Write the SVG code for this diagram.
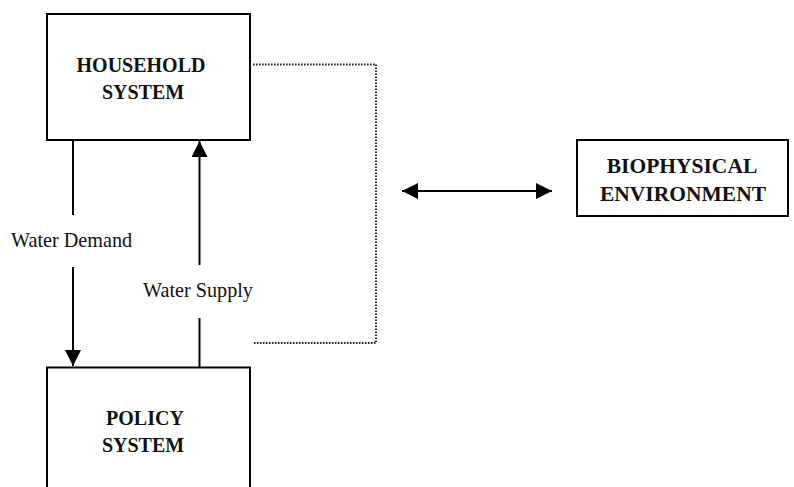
<svg xmlns="http://www.w3.org/2000/svg" width="794" height="487" viewBox="0 0 794 487">
<style>
.box{fill:#fff;stroke:#000;stroke-width:2}
.t{font-family:"Liberation Serif","Times New Roman",serif;font-weight:bold;font-size:20px;text-anchor:middle;fill:#111}
.lbl{font-family:"Liberation Serif","Times New Roman",serif;font-size:20.2px;fill:#111}
.ln{stroke:#000;stroke-width:2;fill:none}
.dot{stroke:#222;stroke-width:2;fill:none;stroke-dasharray:1.6 1.4}
</style>
<defs>
<marker id="ah" viewBox="0 0 16 16" refX="16" refY="8" markerWidth="16" markerHeight="16" markerUnits="userSpaceOnUse" orient="auto-start-reverse">
<path d="M0,0 L16,8 L0,16 Z" fill="#000"/>
</marker>
</defs>
<rect width="794" height="487" fill="#fff"/>
<g id="connectors">
<path class="ln" d="M73,140 V215"/>
<path class="ln" d="M73,267 V366" marker-end="url(#ah)"/>
<path class="ln" d="M199.5,368 V318"/>
<path class="ln" d="M199.5,265 V141" marker-end="url(#ah)"/>
<path class="dot" d="M253,64.5 H376 V343 H253"/>
<path class="ln" d="M402,191 H552" marker-start="url(#ah)" marker-end="url(#ah)"/>
<text class="lbl" x="11" y="247">Water Demand</text>
<text class="lbl" x="143" y="297">Water Supply</text>
</g>
<g id="household">
<rect class="box" x="47" y="14" width="203" height="126"/>
<text class="t" x="141" y="72">HOUSEHOLD</text>
<text class="t" x="143" y="99">SYSTEM</text>
</g>
<g id="policy">
<rect class="box" x="47" y="367.5" width="203" height="130"/>
<text class="t" x="145" y="425">POLICY</text>
<text class="t" x="143" y="452">SYSTEM</text>
</g>
<g id="biophysical">
<rect class="box" x="577" y="140" width="211" height="76"/>
<text class="t" x="682" y="173" style="font-size:21.5px">BIOPHYSICAL</text>
<text class="t" x="683" y="201" style="font-size:21.5px">ENVIRONMENT</text>
</g>
</svg>
